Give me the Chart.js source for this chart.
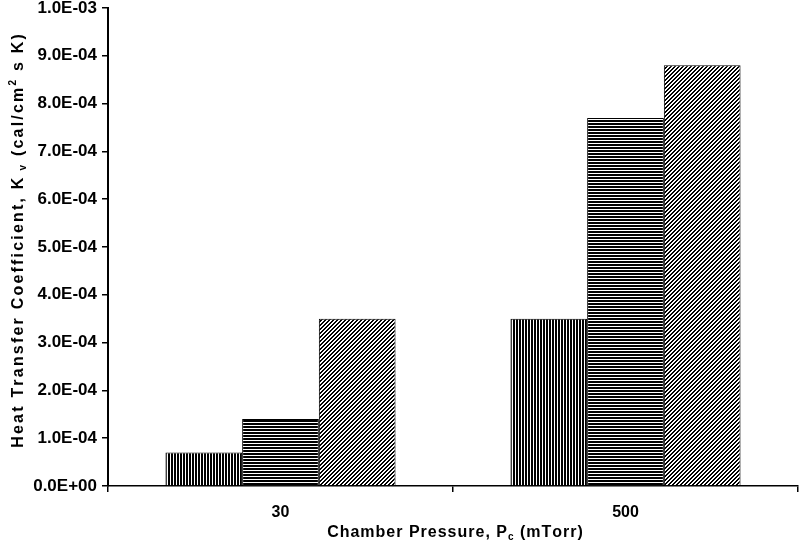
<!DOCTYPE html>
<html>
<head>
<meta charset="utf-8">
<script src="https://cdn.jsdelivr.net/npm/chart.js@4"></script>
<style>
  html, body { margin: 0; padding: 0; background: #fff; }
  #wrap { width: 799px; height: 547px; }
</style>
</head>
<body>
<div id="wrap"><canvas id="myChart" width="799" height="547"></canvas></div>
<script>
// data
var pressures = ['30', '500'];
var seriesVertical = [7.0e-5, 3.5e-4];
var seriesHorizontal = [1.4e-4, 7.7e-4];
var seriesDiagonal = [3.5e-4, 8.8e-4];
var yMin = 0, yMax = 1.0e-3, yStep = 1.0e-4;

var FONT = '"Liberation Sans", Arial, sans-serif';

// hatch patterns
function makePattern(kind) {
    var c = document.createElement('canvas');
    var ctx = c.getContext('2d');
    if (kind === 'v') {
        c.width = 3; c.height = 3;
        ctx.fillStyle = '#fff'; ctx.fillRect(0, 0, 3, 3);
        ctx.fillStyle = '#000'; ctx.fillRect(0, 0, 2, 3);
    } else if (kind === 'h') {
        c.width = 3; c.height = 3;
        ctx.fillStyle = '#fff'; ctx.fillRect(0, 0, 3, 3);
        ctx.fillStyle = '#000'; ctx.fillRect(0, 0, 3, 2);
    } else {
        c.width = 4; c.height = 4;
        ctx.fillStyle = '#fff'; ctx.fillRect(0, 0, 4, 4);
        ctx.fillStyle = '#000';
        for (var x = 0; x < 4; x++) {
            for (var y = 0; y < 4; y++) {
                if ((x + y) % 4 < 2) ctx.fillRect(x, y, 1, 1);
            }
        }
    }
    return document.getElementById('myChart').getContext('2d').createPattern(c, 'repeat');
}

function fmtExp(v) {
    var s = Number(v).toExponential(1).split('e');
    var e = s[1];
    return s[0] + 'E' + e[0] + e.slice(1).padStart(2, '0');
}

// rich text with sub/superscripts and manual tracking
function drawRich(ctx, parts, cx, cy, size, track) {
    var total = 0;
    parts.forEach(function (p) {
        p.size = (p.sub || p.sup) ? Math.round(size * 0.65) : size;
        ctx.font = 'bold ' + p.size + 'px ' + FONT;
        p.w = 0;
        for (var i = 0; i < p.t.length; i++) p.w += ctx.measureText(p.t[i]).width + track;
        total += p.w;
    });
    total -= track;
    var x = cx - total / 2;
    ctx.textBaseline = 'alphabetic';
    ctx.textAlign = 'left';
    ctx.fillStyle = '#000';
    parts.forEach(function (p) {
        ctx.font = 'bold ' + p.size + 'px ' + FONT;
        var dy = p.sub ? size * 0.2 : (p.sup ? -size * 0.4 : 0);
        for (var i = 0; i < p.t.length; i++) {
            ctx.fillText(p.t[i], x, cy + size * 0.36 + dy);
            x += ctx.measureText(p.t[i]).width + track;
        }
    });
}

var axisTitles = {
    id: 'axisTitles',
    afterDraw: function (chart) {
        var ctx = chart.ctx;
        ctx.save();
        drawRich(ctx, [
            {t: 'Chamber Pressure, P'}, {t: 'c', sub: true}, {t: ' (mTorr)'}
        ], 455, 531, 16, 1.0);
        ctx.translate(17, 241);
        ctx.rotate(-Math.PI / 2);
        drawRich(ctx, [
            {t: 'Heat Transfer Coefficient, K'}, {t: ' v', sub: true},
            {t: ' (cal/cm'}, {t: '2', sup: true}, {t: ' s K)'}
        ], 0, 0, 16, 2.2);
        ctx.restore();
    }
};

var context = document.getElementById('myChart');
var graph = new Chart(context, {
    type: 'bar',
    data: {
        labels: pressures,
        datasets: [
            { data: seriesVertical, backgroundColor: makePattern('v'), borderColor: '#000', borderWidth: 1 },
            { data: seriesHorizontal, backgroundColor: makePattern('h'), borderColor: '#000', borderWidth: 1 },
            { data: seriesDiagonal, backgroundColor: makePattern('d'), borderColor: '#000', borderWidth: 1 }
        ]
    },
    options: {
        responsive: false,
        animation: false,
        devicePixelRatio: 1,
        layout: { padding: { left: 0, top: 8, right: 1, bottom: 0 } },
        plugins: { legend: { display: false }, tooltip: { enabled: false } },
        datasets: { bar: { categoryPercentage: 0.667, barPercentage: 1.0 } },
        scales: {
            x: {
                offset: true,
                grid: { offset: true, drawOnChartArea: false, drawTicks: true, tickLength: 6, color: '#000', lineWidth: 1.5 },
                border: { display: true, color: '#000', width: 1.5 },
                ticks: { color: '#000', padding: 11, font: { family: FONT, size: 16, weight: 'bold' } },
                afterFit: function (scale) { scale.height = 61; scale.paddingLeft = 0; scale.paddingRight = 0; }
            },
            y: {
                min: yMin,
                max: yMax,
                grid: { drawOnChartArea: false, drawTicks: true, tickLength: 6, color: '#000', lineWidth: 1.5 },
                border: { display: true, color: '#000', width: 2 },
                ticks: {
                    stepSize: yStep,
                    color: '#000',
                    padding: 5,
                    font: { family: FONT, size: 17, weight: 'bold' },
                    callback: function (v) { return fmtExp(v); }
                },
                afterFit: function (scale) { scale.width = 108; scale.paddingTop = 0; scale.paddingBottom = 0; }
            }
        }
    },
    plugins: [axisTitles]
});
</script>
</body>
</html>
